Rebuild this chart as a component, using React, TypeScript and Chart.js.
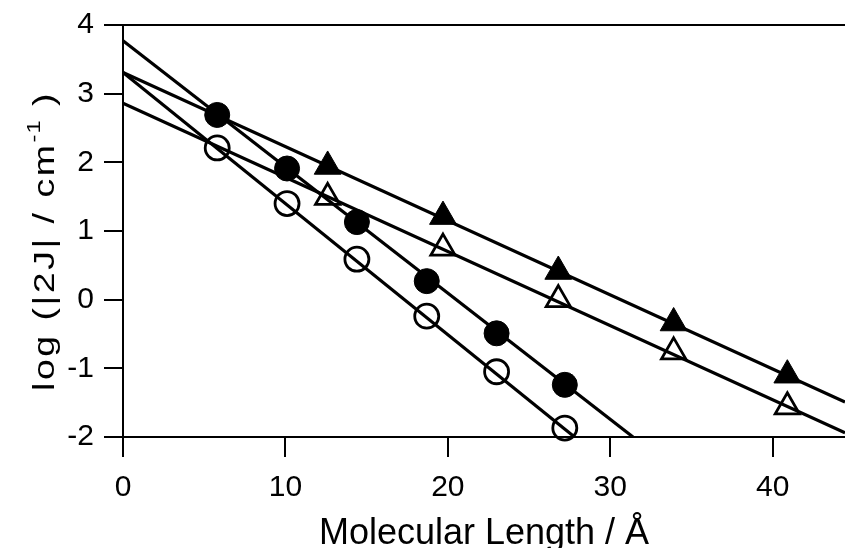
import React, { useEffect, useRef } from "react";
import { Chart, registerables } from "chart.js";

Chart.register(...registerables);

// ---- data ----
const xTicks = [0, 10, 20, 30, 40];
const yTicks = [-2, -1, 0, 1, 2, 3, 4];

const filledCircleX = [5.8, 10.1, 14.4, 18.7, 23.0, 27.2];
const filledCircleY = [2.69, 1.91, 1.13, 0.27, -0.49, -1.24];
const openCircleX = [5.8, 10.1, 14.4, 18.7, 23.0, 27.2];
const openCircleY = [2.21, 1.4, 0.59, -0.24, -1.05, -1.87];
const filledTriangleX = [12.6, 19.7, 26.8, 33.9, 40.9];
const filledTriangleY = [1.94, 1.21, 0.41, -0.34, -1.1];
const openTriangleX = [12.6, 19.7, 26.8, 33.9, 40.9];
const openTriangleY = [1.49, 0.75, 0.0, -0.76, -1.56];

// fitted straight lines (end points)
const fitFilledCircleX = [0, 31.4];
const fitFilledCircleY = [3.77, -2.0];
const fitOpenCircleX = [0, 27.8];
const fitOpenCircleY = [3.31, -2.0];
const fitFilledTriangleX = [0, 44.45];
const fitFilledTriangleY = [3.31, -1.49];
const fitOpenTriangleX = [0, 44.45];
const fitOpenTriangleY = [2.86, -1.94];

const xMin = 0;
const xMax = 44.45;
const yMin = -2;
const yMax = 4;

const xTitle = "Molecular Length / Å";
const yTitleMain = "log (|2J| / cm";
const yTitleSup = "-1";
const yTitleEnd = " )";

const FONT = "'Liberation Sans', Arial, Helvetica, sans-serif";

const pts = (xs: number[], ys: number[]) => xs.map((x, i) => ({ x, y: ys[i] }));

const frameAndTitlePlugin = {
  id: "frameAndTitle",
  afterDraw(chart: any) {
    const { ctx, chartArea } = chart;
    ctx.save();
    // top frame line
    ctx.strokeStyle = "#000";
    ctx.lineWidth = 2;
    ctx.beginPath();
    ctx.moveTo(chartArea.left, chartArea.top);
    ctx.lineTo(chartArea.right, chartArea.top);
    ctx.stroke();

    // rotated y title with superscript
    const mainSize = 30;
    const supSize = 19;
    const mainSpacing = 2;
    const supSpacing = 1;
    const stretch = 1.25;
    ctx.fillStyle = "#000";
    ctx.textBaseline = "alphabetic";
    ctx.textAlign = "left";
    const setFont = (size: number, spacing: number) => {
      ctx.font = `${size}px ${FONT}`;
      (ctx as any).letterSpacing = `${spacing}px`;
    };
    setFont(mainSize, mainSpacing);
    const w1 = ctx.measureText(yTitleMain).width;
    const w3 = ctx.measureText(yTitleEnd).width;
    setFont(supSize, supSpacing);
    const w2 = ctx.measureText(yTitleSup).width;
    const total = w1 + w2 + w3;
    const cx = 54;
    const cy = 241;
    ctx.translate(cx, cy);
    ctx.rotate(-Math.PI / 2);
    ctx.scale(stretch, 1);
    let x = -total / 2;
    setFont(mainSize, mainSpacing);
    ctx.fillText(yTitleMain, x, 0);
    x += w1;
    setFont(supSize, supSpacing);
    ctx.fillText(yTitleSup, x, -14);
    x += w2;
    setFont(mainSize, mainSpacing);
    ctx.fillText(yTitleEnd, x, 0);
    ctx.restore();
  },
};

export default function App() {
  const ref = useRef<HTMLCanvasElement | null>(null);

  useEffect(() => {
    if (!ref.current) return;
    const scatterDs = (label: string, data: any[], style: string, filled: boolean, r: number) => ({
      type: "scatter" as const,
      label,
      data,
      showLine: false,
      pointStyle: style,
      pointRadius: r,
      pointHoverRadius: r,
      pointBorderWidth: filled ? 1 : 2.8,
      pointBackgroundColor: filled ? "#000" : "rgba(0,0,0,0)",
      pointBorderColor: "#000",
      clip: false,
      order: 1,
    });
    const lineDs = (label: string, data: any[]) => ({
      type: "scatter" as const,
      label,
      data,
      showLine: true,
      borderColor: "#000",
      borderWidth: 3.2,
      pointRadius: 0,
      pointHoverRadius: 0,
      fill: false,
      order: 2,
    });

    const chart = new Chart(ref.current, {
      type: "scatter",
      data: {
        datasets: [
          scatterDs("filled circles", pts(filledCircleX, filledCircleY), "circle", true, 12.5),
          scatterDs("open circles", pts(openCircleX, openCircleY), "circle", false, 12),
          scatterDs("filled triangles", pts(filledTriangleX, filledTriangleY), "triangle", true, 15.5),
          scatterDs("open triangles", pts(openTriangleX, openTriangleY), "triangle", false, 14),
          lineDs("fit filled circles", pts(fitFilledCircleX, fitFilledCircleY)),
          lineDs("fit open circles", pts(fitOpenCircleX, fitOpenCircleY)),
          lineDs("fit filled triangles", pts(fitFilledTriangleX, fitFilledTriangleY)),
          lineDs("fit open triangles", pts(fitOpenTriangleX, fitOpenTriangleY)),
        ] as any,
      },
      options: {
        animation: false,
        responsive: false,
        maintainAspectRatio: false,
        devicePixelRatio: 1,
        layout: { autoPadding: false, padding: { top: 25, right: 0, left: 0, bottom: 0 } },
        plugins: {
          legend: { display: false },
          tooltip: { enabled: false },
          title: { display: false },
        },
        scales: {
          x: {
            type: "linear",
            min: xMin,
            max: xMax,
            afterBuildTicks: (s: any) => {
              s.ticks = xTicks.map((v) => ({ value: v }));
            },
            afterFit: (s: any) => {
              s.height = 111;
              s.paddingLeft = 0;
              s.paddingRight = 0;
            },
            grid: {
              drawOnChartArea: false,
              drawTicks: true,
              tickLength: 20,
              color: "#000",
              lineWidth: 2,
            },
            border: { display: true, color: "#000", width: 2 },
            ticks: {
              color: "#000",
              font: { family: FONT, size: 30 },
              padding: 13,
              maxRotation: 0,
              autoSkip: false,
            },
            title: {
              display: true,
              text: xTitle,
              color: "#000",
              font: { family: FONT, size: 36 },
              padding: { top: 0, bottom: -8 },
            },
          },
          y: {
            type: "linear",
            min: yMin,
            max: yMax,
            afterBuildTicks: (s: any) => {
              s.ticks = yTicks.map((v) => ({ value: v }));
            },
            afterFit: (s: any) => {
              s.width = 123;
              s.paddingTop = 0;
              s.paddingBottom = 0;
            },
            grid: {
              drawOnChartArea: false,
              drawTicks: true,
              tickLength: 19,
              color: "#000",
              lineWidth: 2,
            },
            border: { display: true, color: "#000", width: 2 },
            ticks: {
              color: "#000",
              font: { family: FONT, size: 30 },
              padding: 10,
              autoSkip: false,
            },
          },
        },
      } as any,
      plugins: [frameAndTitlePlugin],
    });
    return () => chart.destroy();
  }, []);

  return (
    <div style={{ position: "absolute", left: 0, top: 0, width: 845, height: 548, background: "#fff" }}>
      <canvas ref={ref} width={845} height={548} style={{ display: "block", width: 845, height: 548 }} />
    </div>
  );
}
